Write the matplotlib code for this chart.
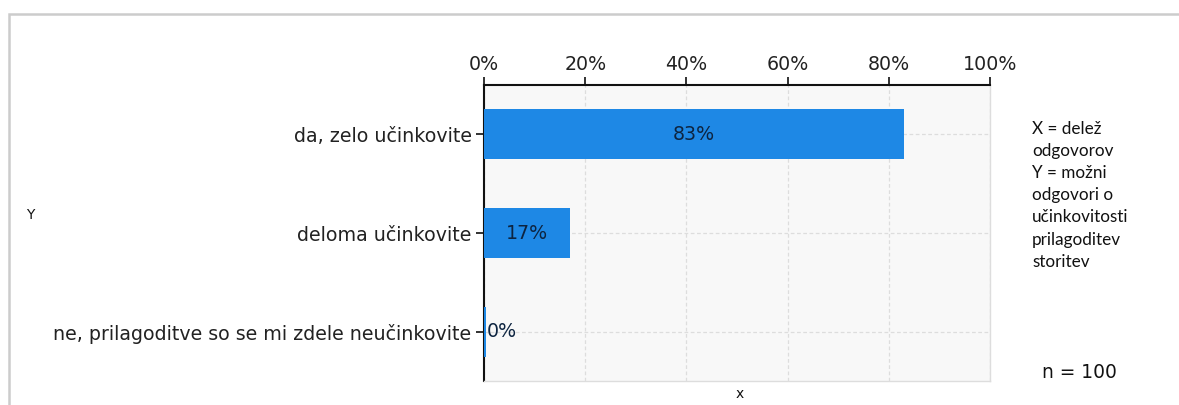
import matplotlib
matplotlib.use("Agg")
import matplotlib.pyplot as plt
from matplotlib.patches import Rectangle

categories = ["da, zelo učinkovite", "deloma učinkovite",
              "ne, prilagoditve so se mi zdele neučinkovite"]
values = [83, 17, 0.4]
value_labels = ["83%", "17%", "0%"]
x_ticks = [0, 20, 40, 60, 80, 100]
x_tick_labels = ["0%", "20%", "40%", "60%", "80%", "100%"]

fig = plt.figure(figsize=(11.79, 4.05), dpi=100)
fig.patch.set_facecolor("white")

# outer border
fig.add_artist(Rectangle((8.5 / 1179, -0.1), 1.2, 1 - 13.5 / 405 + 0.1,
                         transform=fig.transFigure, fill=False,
                         edgecolor="#cccccc", linewidth=1.8))

ax = fig.add_axes([484 / 1179, 1 - 381 / 405, 506 / 1179, 296 / 405])
ax.set_facecolor("#f8f8f8")
ypos = list(range(len(categories)))
ax.barh(ypos, values, height=0.51, color="#1e88e5", zorder=3)
ax.set_xlim(0, 100)
ax.set_ylim(len(categories) - 0.5, -0.5)
ax.set_yticks(ypos)
ax.set_yticklabels(categories, fontsize=13.7, color="#222222")
ax.xaxis.tick_top()
ax.set_xticks(x_ticks)
ax.set_xticklabels(x_tick_labels, fontsize=13.7, color="#222222")
ax.tick_params(axis="x", direction="out", length=6, width=1.3, pad=2, colors="#222222")
ax.tick_params(axis="y", direction="out", length=6, width=1.3, pad=3, colors="#222222")
ax.grid(True, color="#dddddd", linestyle=(0, (3, 2)), linewidth=0.9, zorder=0)
for s in ["top", "left"]:
    ax.spines[s].set_color("#111111")
    ax.spines[s].set_linewidth(1.5)
for s in ["bottom", "right"]:
    ax.spines[s].set_color("#dddddd")
    ax.spines[s].set_linewidth(1.0)

for y, v, lab in zip(ypos, values, value_labels):
    if v > 10:
        ax.text(v / 2, y, lab, ha="center", va="center", fontsize=13.7,
                color="#0d2440", zorder=4)
    else:
        ax.text(v + 0.2, y, lab, ha="left", va="center", fontsize=13.7,
                color="#0d2440", zorder=4)

fig.text(30 / 1179, 1 - 215 / 405, "Y", fontsize=10, ha="center", va="center", color="#111111")
fig.text(740 / 1179, 1 - 394 / 405, "x", fontsize=10, ha="center", va="center", color="#111111")
fig.text(1079 / 1179, 1 - 373 / 405, "n = 100", fontsize=13.4, ha="center", va="center", color="#111111")
fig.text(1032 / 1179, 1 - 121 / 405,
         "X = delež\nodgovorov\nY = možni\nodgovori o\nučinkovitosti\nprilagoditev\nstoritev",
         fontsize=12.3, family="Lato", ha="left", va="top", linespacing=1.47, color="#111111")

fig.savefig("out.png", dpi=100)
